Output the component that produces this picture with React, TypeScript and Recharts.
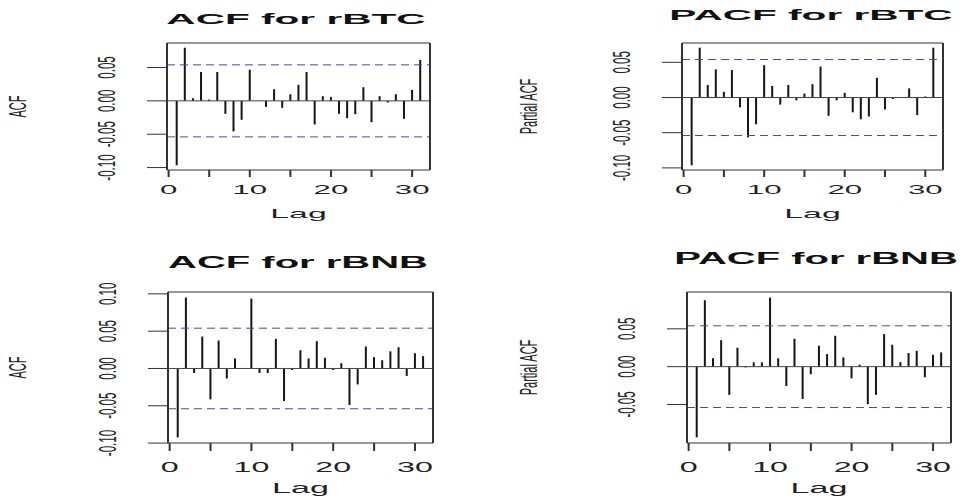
import React from "react";
import { BarChart, Bar, XAxis, YAxis, ReferenceLine } from "recharts";

// lags 1..31 (lag 0 is left out of the correlograms)
const LAGS = [1, 2, 3, 4, 5, 6, 7, 8, 9, 10, 11, 12, 13, 14, 15, 16, 17, 18, 19, 20, 21, 22, 23, 24, 25, 26, 27, 28, 29, 30, 31];

const ACF_RBTC = [
  -0.0966, 0.0797, 0.004, 0.0433, 0.002, 0.0433, -0.0194, -0.0458, -0.0284, 0.0468,
  0, -0.009, 0.0174, -0.0105, 0.01, 0.024, 0.0433, -0.0354, 0.007, 0.006,
  -0.0194, -0.026, -0.02, 0.0204, -0.032, 0.007, -0.0025, 0.01, -0.027, 0.0164, 0.0613,
];
const PACF_RBTC = [
  -0.0963, 0.0708, 0.0179, 0.04, 0.008, 0.039, -0.014, -0.0566, -0.038, 0.046,
  0.0165, -0.01, 0.0179, -0.004, 0.0057, 0.019, 0.044, -0.026, -0.004, 0.0066,
  -0.021, -0.031, -0.027, 0.028, -0.017, -0.002, 0, 0.013, -0.025, 0.0015, 0.0708,
];
const ACF_RBNB = [
  -0.0924, 0.095, -0.006, 0.0428, -0.0415, 0.0375, -0.0134, 0.0134, 0, 0.0937,
  -0.006, -0.006, 0.0397, -0.0437, -0.002, 0.0245, 0.0134, 0.0366, 0.0143, -0.002,
  0.007, -0.049, -0.0214, 0.0294, 0.0152, 0.011, 0.023, 0.0285, -0.01, 0.0205, 0.0165,
];
const PACF_RBNB = [
  -0.0935, 0.0878, 0.011, 0.035, -0.0373, 0.025, -0.001, 0.0057, 0.0057, 0.0913,
  0.011, -0.0255, 0.0369, -0.0426, -0.01, 0.0277, 0.0167, 0.0408, 0.0123, -0.0154,
  0.0026, -0.0496, -0.0373, 0.043, 0.029, 0.006, 0.018, 0.021, -0.014, 0.0158, 0.0189,
];

// 95% white-noise band, 1.96/sqrt(n)
const CI = 0.054;

const X_TICKS = [0, 5, 10, 15, 20, 25, 30];
const Y_TICKS_BTC = [-0.1, -0.05, 0, 0.05];
const Y_TICKS_BNB_ACF = [-0.1, -0.05, 0, 0.05, 0.1];
const Y_TICKS_BNB_PACF = [-0.05, 0, 0.05];

const FONT = "'Liberation Sans', Arial, Helvetica, sans-serif";
const INK = "#222";
const AXIS = "#333";
const BAR = "#151515";
const BAND = "#4a4a9c";

type Txt = { fs: number; sx: number };

type Panel = {
  title: string;
  ylab: string;
  values: number[];
  yTicks: number[];
  left: number;
  top: number;
  w: number;
  h: number;
  box: [number, number, number, number]; // plot frame in chart coords
  titleX: number;
  titleY: number;
  tickY: number;
  lagY: number;
  ylabX: number;
  yTickX: number;
  xTickLen: number;
  titleTxt: Txt;
  tickTxt: Txt;
  lagTxt: Txt;
};

const TOP = { titleTxt: { fs: 14, sx: 2.9 }, tickTxt: { fs: 12, sx: 2.6 }, lagTxt: { fs: 12.5, sx: 2.7 }, xTickLen: 7 };
const BOTTOM = { titleTxt: { fs: 16, sx: 2.5 }, tickTxt: { fs: 14, sx: 2.3 }, lagTxt: { fs: 14.5, sx: 2.35 }, xTickLen: 8 };

// rotated labels on the y side
const Y_TICK_TXT = { fs: 11.5, sx: 2.0 };
const Y_LAB_TXT = { fs: 11, sx: 2.1 };

const PANELS: Panel[] = [
  {
    title: "ACF for rBTC", ylab: "ACF", values: ACF_RBTC, yTicks: Y_TICKS_BTC,
    left: 0, top: 0, w: 482, h: 250, box: [167, 43, 430, 170],
    titleX: 296, titleY: 24, tickY: 194, lagY: 218, ylabX: 18, yTickX: 107, ...TOP,
  },
  {
    title: "PACF for rBTC", ylab: "Partial ACF", values: PACF_RBTC, yTicks: Y_TICKS_BTC,
    left: 482, top: 0, w: 482, h: 250, box: [200, 43, 461, 170],
    titleX: 329, titleY: 20, tickY: 194, lagY: 218, ylabX: 47, yTickX: 140, ...TOP,
  },
  {
    title: "ACF for rBNB", ylab: "ACF", values: ACF_RBNB, yTicks: Y_TICKS_BNB_ACF,
    left: 0, top: 250, w: 482, h: 251, box: [168, 42, 433, 193],
    titleX: 298, titleY: 18, tickY: 222, lagY: 243, ylabX: 18, yTickX: 108, ...BOTTOM,
  },
  {
    title: "PACF for rBNB", ylab: "Partial ACF", values: PACF_RBNB, yTicks: Y_TICKS_BNB_PACF,
    left: 482, top: 250, w: 482, h: 251, box: [205, 42, 469, 193],
    titleX: 334, titleY: 14, tickY: 222, lagY: 243, ylabX: 47, yTickX: 145, ...BOTTOM,
  },
];

function HText({ x, y, text, t, bold }: { x: number; y: number; text: string; t: Txt; bold?: boolean }) {
  return (
    <text
      transform={`translate(${x},${y}) scale(${t.sx},1)`}
      textAnchor="middle"
      fontSize={t.fs}
      fontFamily={FONT}
      fontWeight={bold ? 700 : 400}
      fill={bold ? "#111" : INK}
    >
      {text}
    </text>
  );
}

// text running bottom-to-top, centred on (cx, cy)
function VText({ cx, cy, text, t }: { cx: number; cy: number; text: string; t: Txt }) {
  const bx = cx + (0.716 * t.fs * t.sx) / 2;
  return (
    <text
      transform={`translate(${bx},${cy}) scale(${t.sx},1) rotate(-90)`}
      textAnchor="middle"
      fontSize={t.fs}
      fontFamily={FONT}
      fill={INK}
    >
      {text}
    </text>
  );
}

function AcfPanel({ p }: { p: Panel }) {
  const data = LAGS.map((lag, i) => ({ lag, value: p.values[i] }));

  // same 4% expansion R uses for plot limits
  const lo = Math.min(...p.values, -CI);
  const hi = Math.max(...p.values, CI);
  const yPad = (hi - lo) * 0.04;
  const yDomain = [lo - yPad, hi + yPad];
  const first = LAGS[0];
  const last = LAGS[LAGS.length - 1];
  const xPad = (last - first) * 0.04;
  const xDomain = [first - xPad, last + xPad];

  const [bx0, by0, bx1, by1] = p.box;
  const midY = (by0 + by1) / 2;
  const midX = (bx0 + bx1) / 2;

  return (
    <div style={{ position: "absolute", left: p.left, top: p.top, width: p.w, height: p.h }}>
      <BarChart
        width={p.w}
        height={p.h}
        data={data}
        margin={{ top: 0, right: 0, bottom: 0, left: 0 }}
        barSize={2}
      >
        <XAxis
          xAxisId="frameTop"
          orientation="top"
          type="number"
          dataKey="lag"
          domain={xDomain}
          height={by0}
          tick={false}
          tickLine={false}
          axisLine={{ stroke: AXIS, strokeWidth: 1 }}
          label={() => <HText x={p.titleX} y={p.titleY} text={p.title} t={p.titleTxt} bold />}
        />
        <XAxis
          type="number"
          dataKey="lag"
          domain={xDomain}
          ticks={X_TICKS}
          interval={0}
          height={p.h - by1}
          tickSize={p.xTickLen}
          tickLine={{ stroke: AXIS, strokeWidth: 2 }}
          axisLine={{ stroke: AXIS, strokeWidth: 1 }}
          tick={(props: any) =>
            props.payload.value % 10 === 0 ? (
              <HText x={props.x} y={p.tickY} text={String(props.payload.value)} t={p.tickTxt} />
            ) : (
              <g />
            )
          }
          label={() => <HText x={midX} y={p.lagY} text="Lag" t={p.lagTxt} />}
        />
        <YAxis
          type="number"
          domain={yDomain}
          ticks={p.yTicks}
          interval={0}
          width={bx0}
          tickSize={20}
          tickLine={{ stroke: AXIS, strokeWidth: 1 }}
          axisLine={{ stroke: AXIS, strokeWidth: 2 }}
          tick={(props: any) => (
            <VText cx={p.yTickX} cy={props.y} text={props.payload.value.toFixed(2)} t={Y_TICK_TXT} />
          )}
          label={() => <VText cx={p.ylabX} cy={midY} text={p.ylab} t={Y_LAB_TXT} />}
        />
        <YAxis
          yAxisId="frameRight"
          orientation="right"
          type="number"
          domain={yDomain}
          width={p.w - bx1}
          tick={false}
          tickLine={false}
          axisLine={{ stroke: AXIS, strokeWidth: 2 }}
        />
        <ReferenceLine y={0} stroke="#444" strokeWidth={1} />
        <ReferenceLine y={CI} stroke={BAND} strokeWidth={1} strokeDasharray="8 5" />
        <ReferenceLine y={-CI} stroke={BAND} strokeWidth={1} strokeDasharray="8 5" />
        <Bar dataKey="value" fill={BAR} isAnimationActive={false} />
      </BarChart>
    </div>
  );
}

export default function App() {
  return (
    <div style={{ position: "absolute", left: 0, top: 0, width: 964, height: 501, background: "#fff" }}>
      {PANELS.map((p) => (
        <AcfPanel key={p.title} p={p} />
      ))}
    </div>
  );
}
